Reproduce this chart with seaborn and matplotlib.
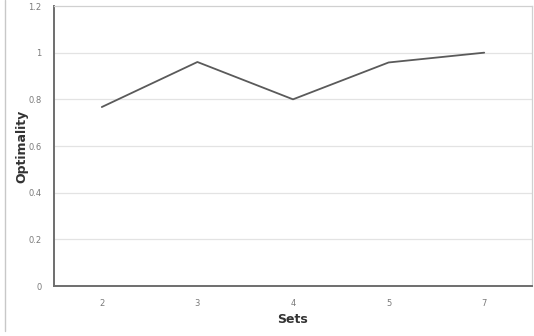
import matplotlib
matplotlib.use('Agg')
import matplotlib.pyplot as plt
from matplotlib.lines import Line2D
import seaborn as sns
import pandas as pd
import numpy as np

sets = ['2', '3', '4', '5', '7']
optimality = [0.767, 0.96, 0.80, 0.958, 1.0]
y_ticks = [0, 0.2, 0.4, 0.6, 0.8, 1, 1.2]
y_labels = ['0', '0.2', '0.4', '0.6', '0.8', '1', '1.2']

df = pd.DataFrame({'Sets': sets, 'Optimality': optimality})

sns.set_style('white')
plt.rcParams['font.family'] = ['DejaVu Sans']

fig = plt.figure(figsize=(5.34, 3.36), dpi=100)
ax = fig.add_axes([54 / 534, 50 / 336, 478 / 534, 280 / 336])

sns.lineplot(data=df, x='Sets', y='Optimality', ax=ax, color='#5a5a5a', linewidth=1.3, sort=False)

ax.set_xlim(-0.5, len(sets) - 0.5)
ax.set_ylim(0, 1.2)
ax.set_yticks(y_ticks)
ax.set_yticklabels(y_labels)
ax.set_xticks(range(len(sets)))
ax.set_xticklabels(sets)
ax.set_xticks(np.arange(len(sets)) + 0.5, minor=True)

# gridlines
for v in y_ticks[1:-1]:
    ax.axhline(v, color='#e3e3e3', linewidth=0.9, zorder=0)

for side in ['top', 'right']:
    ax.spines[side].set_color('#d0d0d0')
    ax.spines[side].set_linewidth(0.9)
for side in ['left', 'bottom']:
    ax.spines[side].set_color('#6e6e6e')
    ax.spines[side].set_linewidth(1.4)

ax.tick_params(axis='y', which='major', length=3, width=1, color='#6e6e6e',
               labelsize=6, labelcolor='#7a7a7a', pad=6)
ax.tick_params(axis='x', which='major', length=0, labelsize=6, labelcolor='#7a7a7a', pad=9)
ax.tick_params(axis='x', which='minor', length=3, width=1, color='#6e6e6e', direction='out')

ax.set_xlabel('Sets', fontsize=9, fontweight='bold', color='#333333', labelpad=4)
ax.set_ylabel('Optimality', fontsize=9, fontweight='bold', color='#333333')
ax.yaxis.set_label_coords(-0.054, 0.5)

# chart area border on the left
fig.add_artist(Line2D([5 / 534, 5 / 534], [5 / 336, 1.0], color='#c8c8c8', linewidth=1.0,
                      transform=fig.transFigure))

fig.savefig('out.png', dpi=100)
